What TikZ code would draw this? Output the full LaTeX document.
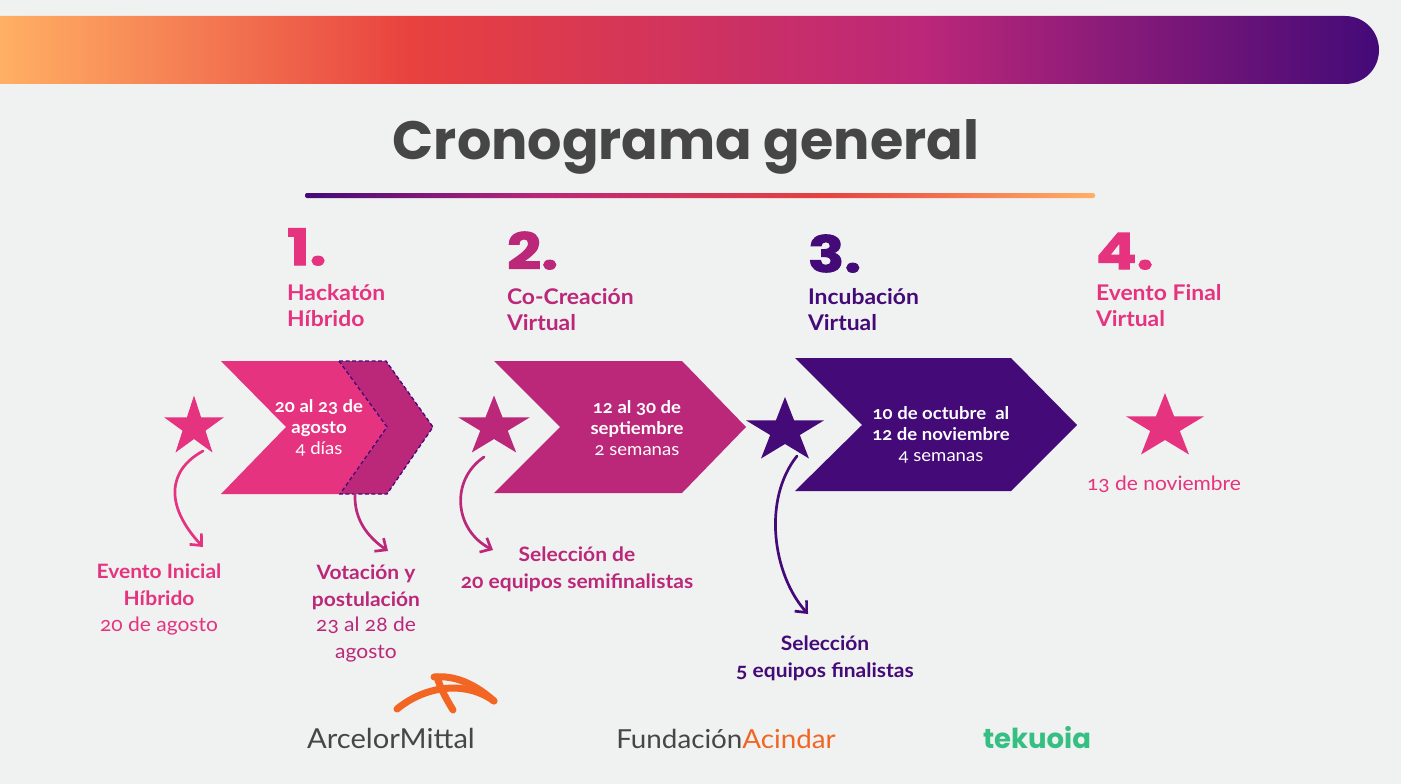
\documentclass[tikz,border=0pt]{standalone}
\usepackage{fontspec}
\usetikzlibrary{shapes.geometric,arrows.meta}
\setmainfont[FakeStretch=1.06,Numbers=OldStyle]{Lato}
\newfontfamily\titlefont{Poppins}
\newfontfamily\numfont[FakeStretch=1.2,FakeBold=2]{Poppins}
\definecolor{bgc}{HTML}{F0F1F1}
\definecolor{pinkc}{HTML}{E6337F}
\definecolor{magc}{HTML}{BB2779}
\definecolor{purc}{HTML}{430A78}
\definecolor{orgc}{HTML}{F26522}
\definecolor{grnc}{HTML}{35BF82}
\definecolor{darkc}{HTML}{464646}
\definecolor{g1}{HTML}{FFB064}
\definecolor{g2}{HTML}{E8413F}
\pgfdeclarehorizontalshading{bandshade}{100bp}{color(0bp)=(g1);color(25bp)=(g1);color(40bp)=(g2);color(58.5bp)=(magc);color(75bp)=(purc);color(100bp)=(purc)}
\pgfdeclarehorizontalshading{ruleshade}{100bp}{color(0bp)=(purc);color(25bp)=(purc);color(40bp)=(magc);color(58bp)=(g2);color(75bp)=(g1);color(100bp)=(g1)}
\tikzset{
  x=1pt,y=-1pt,
  lab/.style={align=center,inner sep=0pt,outer sep=0pt},
  head/.style={lab,anchor=west,align=left,font=\fontsize{21.6}{26}\selectfont\bfseries},
  num/.style={lab,anchor=base west,font=\numfont\fontsize{50}{50}\selectfont\bfseries},
  dat/.style={lab,text=white,font=\fontsize{17.5}{21}\selectfont},
  note/.style={lab,font=\fontsize{19.8}{27}\selectfont},
  stardot/.style={star,star points=5,star point ratio=2.618,inner sep=0pt,outer sep=0pt,transform shape,minimum size=#1},
  curve/.style={line width=2.7pt,line cap=round,line join=round,-{Straight Barb[length=9pt,width=16pt,line width=2.7pt]}},
  logoarc/.style={orgc,line width=7pt,line cap=round},
}
\begin{document}
\begin{tikzpicture}
\useasboundingbox (0,0) rectangle (1401,784);
\fill[bgc] (0,0) rectangle (1401,784);
% band and rule
\shade[shading=bandshade] (0,16) -- (1345,16) .. controls (1364,16) and (1379,31) .. (1379,50) .. controls (1379,69) and (1364,84) .. (1345,84) -- (0,84) -- cycle;
\shade[shading=ruleshade,rounded corners=2pt] (305,193) rectangle (1095,198);
\node[lab,text=darkc,font=\titlefont\fontsize{54}{60}\selectfont\bfseries] (title) at (686,147) {Cronograma general};
% numerals
\node[num,text=pinkc] (n1) at (287,265) {1.};
\node[num,text=magc] (n2) at (507,269) {2.};
\node[num,text=purc] (n3) at (808,272) {3.};
\node[num,text=pinkc] (n4) at (1096,269) {4.};
\node[head,text=pinkc] (h1) at (287,306) {Hackatón\\Híbrido};
\node[head,text=magc] (h2) at (507,310) {Co-Creación\\Virtual};
\node[head,text=purc] (h3) at (808,310) {Incubación\\Virtual};
\node[head,text=pinkc] (h4) at (1096,306) {Evento Final\\Virtual};
% chevrons
\fill[magc] (339,361) -- (386,361) -- (433,427) -- (387,494) -- (340,494) -- (387,427) -- cycle;
\fill[pinkc] (221,361) -- (339,361) -- (387,427) -- (340,494) -- (221,494) -- (286,427) -- cycle;
\draw[purc,line width=1.3pt,dash pattern=on 4pt off 2.5pt] (339,361) -- (386,361) -- (433,427) -- (387,494) -- (340,494) -- (387,427) -- cycle;
\fill[magc] (494,361) -- (682,361) -- (746,427) -- (682,493) -- (494,493) -- (560,427) -- cycle;
\fill[purc] (795,358) -- (1011,358) -- (1077,425) -- (1011,491) -- (795,491) -- (862,425) -- cycle;
\node[dat] (d1) at (319,428) {\textbf{20 al 23 de}\\\textbf{agosto}\\4 días};
\node[dat] (d2) at (637,428) {\textbf{12 al 30 de}\\\textbf{septiembre}\\2 semanas};
\node[dat] (d3) at (941,435) {\textbf{10 de octubre\ \ al}\\\textbf{12 de noviembre}\\4 semanas};
% stars
\node[stardot=63pt,fill=pinkc] (s1) at (194,427) {};
\node[stardot=63pt,fill=magc,xscale=1.2] (s2) at (494,427) {};
\node[stardot=68pt,fill=purc,xscale=1.2] (s3) at (785,431) {};
\node[stardot=68pt,fill=pinkc,xscale=1.2] (s4) at (1165,427) {};
% notes
\node[note,text=pinkc] (e1) at (159,585) {\textbf{Evento Inicial}\\\textbf{Híbrido}};
\node[note,text=pinkc] (e1d) at (159,626) {20 de agosto};
\node[note,text=magc] (e2) at (366,587) {\textbf{Votación y}\\\textbf{postulación}};
\node[note,text=magc] (e2d) at (366,640) {23 al 28 de\\agosto};
\node[note,text=magc] (e3) at (577,569) {\textbf{Selección de}\\\textbf{20 equipos semifinalistas}};
\node[note,text=purc] (e4) at (825,658) {\textbf{Selección}\\\textbf{5 equipos finalistas}};
\node[note,text=pinkc] (e5) at (1164,484) {13 de noviembre};
% connectors
\coordinate (a1s) at (203,451); \coordinate (a1e) at (203,547);
\coordinate (a2s) at (355,494); \coordinate (a2e) at (388,551);
\coordinate (a3s) at (484,457); \coordinate (a3e) at (493,550);
\coordinate (a4s) at (797,456); \coordinate (a4e) at (808,614);
\draw[curve,pinkc] (a1s) .. controls (168,470) and (164,505) .. (a1e);
\draw[curve,magc] (a2s) .. controls (354,520) and (368,537) .. (a2e);
\draw[curve,magc] (a3s) .. controls (450,480) and (454,530) .. (a3e);
\draw[curve,purc] (a4s) .. controls (762,500) and (773,575) .. (a4e);
% logos
\draw[logoarc] (397,709) .. controls (425,686) and (465,680) .. (494,701);
\draw[logoarc] (434,677) .. controls (455,675) and (475,684) .. (494,701);
\draw[logoarc] (437,677) .. controls (441,690) and (447,700) .. (453,710);
\node[lab,text=darkc,font=\fontsize{27.5}{29}\selectfont] (l1) at (391,738) {ArcelorMittal};
\node[lab,font=\fontsize{26.2}{28}\selectfont] (l2) at (726,739) {\textcolor{darkc}{Fundación}\textcolor{orgc}{Acindar}};
\node[lab,text=grnc,font=\titlefont\fontsize{27.5}{29}\selectfont\bfseries] (l3) at (1037,738) {tekuoia};
\end{tikzpicture}
\end{document}
